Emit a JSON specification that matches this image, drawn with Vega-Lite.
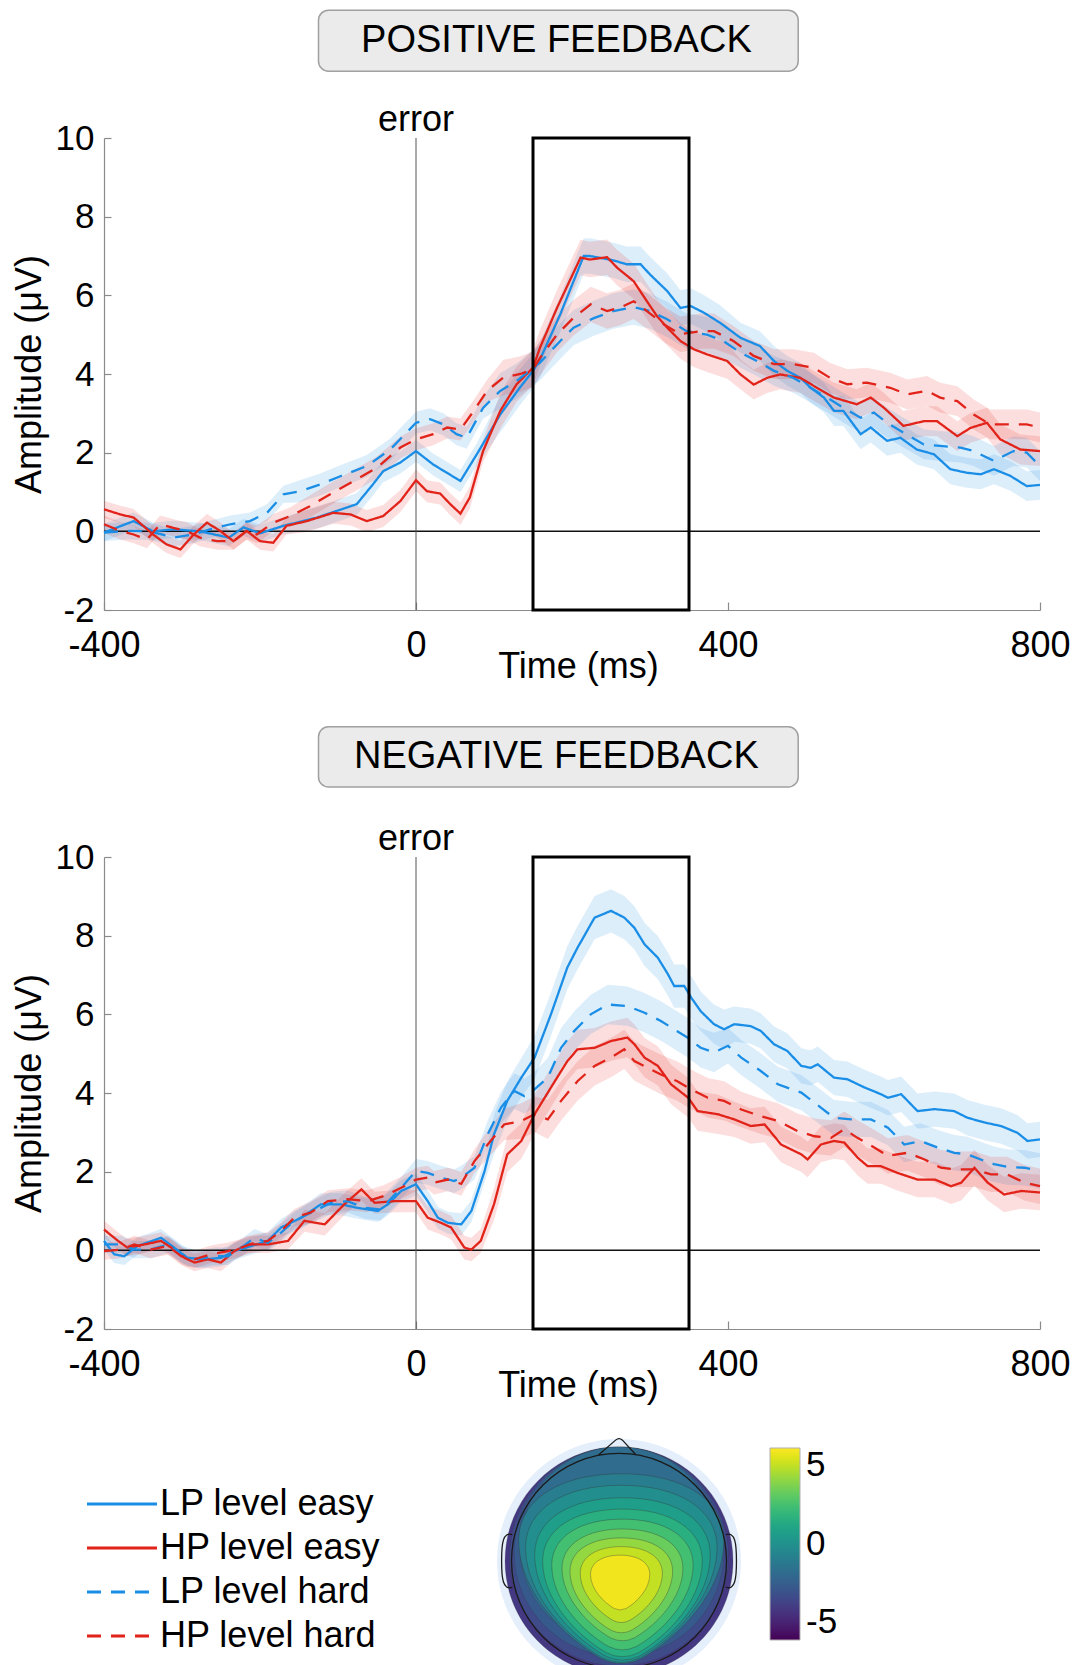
{
"$schema":"https://vega.github.io/schema/vega-lite/v6.json",
"padding":{"left":11,"top":9,"right":0,"bottom":0},
"background":"white",
"config":{
 "font":"Liberation Sans",
 "view":{"stroke":null},
 "axis":{"grid":false,"labelFontSize":35,"titleFontSize":36,"titleFontWeight":"normal","labelColor":"#000","titleColor":"#000","domainColor":"#8a8a8a","tickColor":"#8a8a8a","domainWidth":1.2,"tickWidth":1.2,"labelFlush":false,"labelOverlap":false},
 "axisX":{"tickSize":-8,"labelPadding":26,"titleX":474,"titleY":56,"titleBaseline":"middle","titleAlign":"center","labelFontSize":36},
 "axisY":{"tickSize":-7,"labelPadding":17,"titleX":-75,"titleY":236,"titleAngle":-90,"titleBaseline":"middle","titleAlign":"center"},
 "legend":{"labelColor":"#000","padding":0,"labelLimit":600}
},
"datasets":{
"pos":[
{"c":"LPe","t":-400,"v":-0.03,"e":0.22},{"c":"LPe","t":-362,"v":0.26,"e":0.22},{"c":"LPe","t":-337,"v":0.0,"e":0.22},{"c":"LPe","t":-311,"v":0.05,"e":0.22},{"c":"LPe","t":-277,"v":0.0,"e":0.22},{"c":"LPe","t":-240,"v":-0.16,"e":0.22},{"c":"LPe","t":-221,"v":0.1,"e":0.22},{"c":"LPe","t":-200,"v":-0.05,"e":0.22},{"c":"LPe","t":-170,"v":0.14,"e":0.22},{"c":"LPe","t":-127,"v":0.35,"e":0.28},{"c":"LPe","t":-76,"v":0.69,"e":0.28},{"c":"LPe","t":-55,"v":1.2,"e":0.28},{"c":"LPe","t":-42,"v":1.53,"e":0.28},{"c":"LPe","t":-20,"v":1.75,"e":0.28},{"c":"LPe","t":0,"v":2.04,"e":0.28},{"c":"LPe","t":22,"v":1.7,"e":0.28},{"c":"LPe","t":57,"v":1.28,"e":0.28},{"c":"LPe","t":78,"v":1.96,"e":0.28},{"c":"LPe","t":108,"v":2.97,"e":0.45},{"c":"LPe","t":133,"v":3.65,"e":0.45},{"c":"LPe","t":150,"v":4.08,"e":0.45},{"c":"LPe","t":159,"v":4.37,"e":0.45},{"c":"LPe","t":185,"v":5.52,"e":0.45},{"c":"LPe","t":215,"v":7.0,"e":0.45},{"c":"LPe","t":223,"v":7.0,"e":0.45},{"c":"LPe","t":253,"v":6.89,"e":0.45},{"c":"LPe","t":270,"v":6.79,"e":0.45},{"c":"LPe","t":288,"v":6.79,"e":0.45},{"c":"LPe","t":300,"v":6.53,"e":0.45},{"c":"LPe","t":322,"v":6.11,"e":0.45},{"c":"LPe","t":339,"v":5.68,"e":0.45},{"c":"LPe","t":352,"v":5.73,"e":0.45},{"c":"LPe","t":369,"v":5.56,"e":0.45},{"c":"LPe","t":390,"v":5.3,"e":0.45},{"c":"LPe","t":416,"v":4.92,"e":0.38},{"c":"LPe","t":441,"v":4.71,"e":0.38},{"c":"LPe","t":459,"v":4.33,"e":0.38},{"c":"LPe","t":476,"v":4.08,"e":0.38},{"c":"LPe","t":493,"v":3.9,"e":0.38},{"c":"LPe","t":506,"v":3.65,"e":0.38},{"c":"LPe","t":523,"v":3.4,"e":0.38},{"c":"LPe","t":536,"v":3.06,"e":0.38},{"c":"LPe","t":548,"v":3.06,"e":0.38},{"c":"LPe","t":570,"v":2.47,"e":0.38},{"c":"LPe","t":583,"v":2.64,"e":0.38},{"c":"LPe","t":604,"v":2.3,"e":0.38},{"c":"LPe","t":621,"v":2.38,"e":0.38},{"c":"LPe","t":642,"v":2.08,"e":0.38},{"c":"LPe","t":664,"v":1.96,"e":0.38},{"c":"LPe","t":685,"v":1.58,"e":0.38},{"c":"LPe","t":706,"v":1.49,"e":0.38},{"c":"LPe","t":724,"v":1.45,"e":0.38},{"c":"LPe","t":741,"v":1.58,"e":0.38},{"c":"LPe","t":762,"v":1.41,"e":0.38},{"c":"LPe","t":783,"v":1.15,"e":0.38},{"c":"LPe","t":800,"v":1.18,"e":0.38},
{"c":"HPe","t":-400,"v":0.56,"e":0.22},{"c":"HPe","t":-379,"v":0.43,"e":0.22},{"c":"HPe","t":-362,"v":0.35,"e":0.22},{"c":"HPe","t":-337,"v":-0.08,"e":0.22},{"c":"HPe","t":-320,"v":-0.33,"e":0.22},{"c":"HPe","t":-302,"v":-0.46,"e":0.22},{"c":"HPe","t":-285,"v":-0.08,"e":0.22},{"c":"HPe","t":-268,"v":0.22,"e":0.22},{"c":"HPe","t":-251,"v":0.01,"e":0.22},{"c":"HPe","t":-234,"v":-0.25,"e":0.22},{"c":"HPe","t":-217,"v":0.01,"e":0.22},{"c":"HPe","t":-200,"v":-0.25,"e":0.22},{"c":"HPe","t":-183,"v":-0.29,"e":0.22},{"c":"HPe","t":-166,"v":0.14,"e":0.22},{"c":"HPe","t":-140,"v":0.26,"e":0.28},{"c":"HPe","t":-106,"v":0.47,"e":0.28},{"c":"HPe","t":-84,"v":0.43,"e":0.28},{"c":"HPe","t":-63,"v":0.26,"e":0.28},{"c":"HPe","t":-42,"v":0.39,"e":0.28},{"c":"HPe","t":-20,"v":0.77,"e":0.28},{"c":"HPe","t":0,"v":1.3,"e":0.28},{"c":"HPe","t":14,"v":1.02,"e":0.28},{"c":"HPe","t":31,"v":0.96,"e":0.28},{"c":"HPe","t":44,"v":0.69,"e":0.28},{"c":"HPe","t":57,"v":0.45,"e":0.28},{"c":"HPe","t":69,"v":0.86,"e":0.28},{"c":"HPe","t":86,"v":2.04,"e":0.28},{"c":"HPe","t":108,"v":3.06,"e":0.45},{"c":"HPe","t":129,"v":3.74,"e":0.45},{"c":"HPe","t":150,"v":4.16,"e":0.45},{"c":"HPe","t":159,"v":4.67,"e":0.45},{"c":"HPe","t":181,"v":5.69,"e":0.45},{"c":"HPe","t":211,"v":6.96,"e":0.45},{"c":"HPe","t":223,"v":6.91,"e":0.45},{"c":"HPe","t":245,"v":6.97,"e":0.45},{"c":"HPe","t":258,"v":6.7,"e":0.45},{"c":"HPe","t":279,"v":6.36,"e":0.45},{"c":"HPe","t":296,"v":5.85,"e":0.45},{"c":"HPe","t":309,"v":5.47,"e":0.45},{"c":"HPe","t":322,"v":5.18,"e":0.45},{"c":"HPe","t":339,"v":4.84,"e":0.45},{"c":"HPe","t":356,"v":4.63,"e":0.45},{"c":"HPe","t":373,"v":4.5,"e":0.45},{"c":"HPe","t":399,"v":4.33,"e":0.45},{"c":"HPe","t":416,"v":3.99,"e":0.38},{"c":"HPe","t":433,"v":3.73,"e":0.38},{"c":"HPe","t":450,"v":3.9,"e":0.38},{"c":"HPe","t":467,"v":3.99,"e":0.38},{"c":"HPe","t":493,"v":3.9,"e":0.38},{"c":"HPe","t":514,"v":3.65,"e":0.38},{"c":"HPe","t":536,"v":3.4,"e":0.38},{"c":"HPe","t":565,"v":3.23,"e":0.38},{"c":"HPe","t":583,"v":3.4,"e":0.38},{"c":"HPe","t":600,"v":3.14,"e":0.38},{"c":"HPe","t":625,"v":2.68,"e":0.38},{"c":"HPe","t":651,"v":2.8,"e":0.38},{"c":"HPe","t":668,"v":2.8,"e":0.38},{"c":"HPe","t":694,"v":2.42,"e":0.38},{"c":"HPe","t":711,"v":2.63,"e":0.38},{"c":"HPe","t":732,"v":2.76,"e":0.38},{"c":"HPe","t":749,"v":2.34,"e":0.38},{"c":"HPe","t":775,"v":2.08,"e":0.38},{"c":"HPe","t":800,"v":2.04,"e":0.38},
{"c":"LPh","t":-400,"v":-0.03,"e":0.22},{"c":"LPh","t":-371,"v":0.01,"e":0.22},{"c":"LPh","t":-341,"v":0.0,"e":0.22},{"c":"LPh","t":-311,"v":-0.16,"e":0.22},{"c":"LPh","t":-285,"v":-0.08,"e":0.22},{"c":"LPh","t":-264,"v":0.05,"e":0.22},{"c":"LPh","t":-238,"v":0.18,"e":0.22},{"c":"LPh","t":-213,"v":0.26,"e":0.22},{"c":"LPh","t":-191,"v":0.47,"e":0.22},{"c":"LPh","t":-170,"v":0.94,"e":0.22},{"c":"LPh","t":-149,"v":1.02,"e":0.28},{"c":"LPh","t":-123,"v":1.19,"e":0.28},{"c":"LPh","t":-97,"v":1.4,"e":0.28},{"c":"LPh","t":-63,"v":1.66,"e":0.28},{"c":"LPh","t":-33,"v":2.08,"e":0.28},{"c":"LPh","t":0,"v":2.76,"e":0.28},{"c":"LPh","t":18,"v":2.85,"e":0.28},{"c":"LPh","t":35,"v":2.72,"e":0.28},{"c":"LPh","t":52,"v":2.47,"e":0.28},{"c":"LPh","t":65,"v":2.38,"e":0.28},{"c":"LPh","t":86,"v":3.14,"e":0.28},{"c":"LPh","t":108,"v":3.57,"e":0.45},{"c":"LPh","t":129,"v":3.82,"e":0.45},{"c":"LPh","t":150,"v":4.16,"e":0.45},{"c":"LPh","t":159,"v":4.29,"e":0.45},{"c":"LPh","t":185,"v":4.84,"e":0.45},{"c":"LPh","t":202,"v":5.18,"e":0.45},{"c":"LPh","t":228,"v":5.42,"e":0.45},{"c":"LPh","t":253,"v":5.6,"e":0.45},{"c":"LPh","t":279,"v":5.7,"e":0.45},{"c":"LPh","t":300,"v":5.6,"e":0.45},{"c":"LPh","t":322,"v":5.39,"e":0.45},{"c":"LPh","t":347,"v":5.09,"e":0.45},{"c":"LPh","t":373,"v":5.0,"e":0.45},{"c":"LPh","t":394,"v":4.84,"e":0.45},{"c":"LPh","t":416,"v":4.54,"e":0.38},{"c":"LPh","t":437,"v":4.33,"e":0.38},{"c":"LPh","t":459,"v":4.08,"e":0.38},{"c":"LPh","t":484,"v":3.9,"e":0.38},{"c":"LPh","t":506,"v":3.65,"e":0.38},{"c":"LPh","t":527,"v":3.4,"e":0.38},{"c":"LPh","t":548,"v":3.14,"e":0.38},{"c":"LPh","t":570,"v":2.89,"e":0.38},{"c":"LPh","t":587,"v":3.02,"e":0.38},{"c":"LPh","t":604,"v":2.76,"e":0.38},{"c":"LPh","t":625,"v":2.51,"e":0.38},{"c":"LPh","t":651,"v":2.21,"e":0.38},{"c":"LPh","t":672,"v":2.17,"e":0.38},{"c":"LPh","t":698,"v":2.13,"e":0.38},{"c":"LPh","t":715,"v":2.04,"e":0.38},{"c":"LPh","t":741,"v":1.79,"e":0.38},{"c":"LPh","t":766,"v":2.04,"e":0.38},{"c":"LPh","t":783,"v":2.0,"e":0.38},{"c":"LPh","t":800,"v":1.66,"e":0.38},
{"c":"HPh","t":-400,"v":0.18,"e":0.22},{"c":"HPh","t":-379,"v":0.01,"e":0.22},{"c":"HPh","t":-362,"v":-0.08,"e":0.22},{"c":"HPh","t":-345,"v":-0.21,"e":0.22},{"c":"HPh","t":-328,"v":0.18,"e":0.22},{"c":"HPh","t":-311,"v":0.09,"e":0.22},{"c":"HPh","t":-294,"v":0.01,"e":0.22},{"c":"HPh","t":-277,"v":-0.16,"e":0.22},{"c":"HPh","t":-255,"v":-0.25,"e":0.22},{"c":"HPh","t":-234,"v":-0.25,"e":0.22},{"c":"HPh","t":-217,"v":0.01,"e":0.22},{"c":"HPh","t":-204,"v":-0.08,"e":0.22},{"c":"HPh","t":-183,"v":0.22,"e":0.22},{"c":"HPh","t":-161,"v":0.39,"e":0.22},{"c":"HPh","t":-136,"v":0.64,"e":0.28},{"c":"HPh","t":-110,"v":0.94,"e":0.28},{"c":"HPh","t":-80,"v":1.28,"e":0.28},{"c":"HPh","t":-50,"v":1.62,"e":0.28},{"c":"HPh","t":-20,"v":2.13,"e":0.28},{"c":"HPh","t":0,"v":2.34,"e":0.28},{"c":"HPh","t":22,"v":2.47,"e":0.28},{"c":"HPh","t":40,"v":2.64,"e":0.28},{"c":"HPh","t":57,"v":2.59,"e":0.28},{"c":"HPh","t":74,"v":3.06,"e":0.28},{"c":"HPh","t":91,"v":3.57,"e":0.28},{"c":"HPh","t":112,"v":3.91,"e":0.45},{"c":"HPh","t":134,"v":4.0,"e":0.45},{"c":"HPh","t":150,"v":4.12,"e":0.45},{"c":"HPh","t":159,"v":4.41,"e":0.45},{"c":"HPh","t":181,"v":5.01,"e":0.45},{"c":"HPh","t":202,"v":5.43,"e":0.45},{"c":"HPh","t":224,"v":5.77,"e":0.45},{"c":"HPh","t":245,"v":5.6,"e":0.45},{"c":"HPh","t":262,"v":5.69,"e":0.45},{"c":"HPh","t":279,"v":5.85,"e":0.45},{"c":"HPh","t":296,"v":5.6,"e":0.45},{"c":"HPh","t":318,"v":5.26,"e":0.45},{"c":"HPh","t":339,"v":5.01,"e":0.45},{"c":"HPh","t":365,"v":5.09,"e":0.45},{"c":"HPh","t":382,"v":5.09,"e":0.45},{"c":"HPh","t":407,"v":4.84,"e":0.38},{"c":"HPh","t":433,"v":4.46,"e":0.38},{"c":"HPh","t":459,"v":4.25,"e":0.38},{"c":"HPh","t":484,"v":4.25,"e":0.38},{"c":"HPh","t":510,"v":4.16,"e":0.38},{"c":"HPh","t":531,"v":3.9,"e":0.38},{"c":"HPh","t":553,"v":3.74,"e":0.38},{"c":"HPh","t":578,"v":3.78,"e":0.38},{"c":"HPh","t":608,"v":3.65,"e":0.38},{"c":"HPh","t":630,"v":3.48,"e":0.38},{"c":"HPh","t":655,"v":3.57,"e":0.38},{"c":"HPh","t":672,"v":3.4,"e":0.38},{"c":"HPh","t":694,"v":3.31,"e":0.38},{"c":"HPh","t":715,"v":2.97,"e":0.38},{"c":"HPh","t":736,"v":2.72,"e":0.38},{"c":"HPh","t":766,"v":2.72,"e":0.38},{"c":"HPh","t":783,"v":2.72,"e":0.38},{"c":"HPh","t":800,"v":2.64,"e":0.38}
],
"neg":[
{"c":"LPe","t":-400,"v":0.24,"e":0.22},{"c":"LPe","t":-387,"v":-0.1,"e":0.22},{"c":"LPe","t":-374,"v":-0.15,"e":0.22},{"c":"LPe","t":-357,"v":0.11,"e":0.22},{"c":"LPe","t":-327,"v":0.32,"e":0.22},{"c":"LPe","t":-310,"v":0.07,"e":0.22},{"c":"LPe","t":-293,"v":-0.19,"e":0.22},{"c":"LPe","t":-271,"v":-0.23,"e":0.22},{"c":"LPe","t":-250,"v":-0.19,"e":0.22},{"c":"LPe","t":-233,"v":-0.02,"e":0.22},{"c":"LPe","t":-211,"v":0.11,"e":0.22},{"c":"LPe","t":-190,"v":0.24,"e":0.22},{"c":"LPe","t":-173,"v":0.58,"e":0.22},{"c":"LPe","t":-147,"v":0.83,"e":0.28},{"c":"LPe","t":-122,"v":1.17,"e":0.28},{"c":"LPe","t":-96,"v":1.17,"e":0.28},{"c":"LPe","t":-75,"v":1.08,"e":0.28},{"c":"LPe","t":-49,"v":1.0,"e":0.28},{"c":"LPe","t":-36,"v":1.17,"e":0.28},{"c":"LPe","t":-19,"v":1.51,"e":0.28},{"c":"LPe","t":0,"v":1.68,"e":0.28},{"c":"LPe","t":15,"v":1.25,"e":0.28},{"c":"LPe","t":28,"v":0.83,"e":0.28},{"c":"LPe","t":41,"v":0.7,"e":0.28},{"c":"LPe","t":58,"v":0.66,"e":0.28},{"c":"LPe","t":71,"v":1.0,"e":0.28},{"c":"LPe","t":88,"v":2.02,"e":0.28},{"c":"LPe","t":100,"v":2.95,"e":0.5},{"c":"LPe","t":117,"v":3.8,"e":0.5},{"c":"LPe","t":135,"v":4.39,"e":0.5},{"c":"LPe","t":152,"v":4.9,"e":0.55},{"c":"LPe","t":173,"v":6.0,"e":0.55},{"c":"LPe","t":194,"v":7.19,"e":0.55},{"c":"LPe","t":207,"v":7.69,"e":0.55},{"c":"LPe","t":229,"v":8.46,"e":0.55},{"c":"LPe","t":250,"v":8.63,"e":0.55},{"c":"LPe","t":267,"v":8.46,"e":0.55},{"c":"LPe","t":280,"v":8.2,"e":0.55},{"c":"LPe","t":293,"v":7.78,"e":0.55},{"c":"LPe","t":310,"v":7.44,"e":0.55},{"c":"LPe","t":323,"v":7.02,"e":0.55},{"c":"LPe","t":331,"v":6.72,"e":0.55},{"c":"LPe","t":344,"v":6.72,"e":0.55},{"c":"LPe","t":353,"v":6.42,"e":0.55},{"c":"LPe","t":365,"v":6.08,"e":0.5},{"c":"LPe","t":382,"v":5.75,"e":0.5},{"c":"LPe","t":395,"v":5.62,"e":0.5},{"c":"LPe","t":408,"v":5.75,"e":0.45},{"c":"LPe","t":429,"v":5.7,"e":0.45},{"c":"LPe","t":442,"v":5.58,"e":0.45},{"c":"LPe","t":459,"v":5.24,"e":0.45},{"c":"LPe","t":476,"v":5.07,"e":0.45},{"c":"LPe","t":494,"v":4.69,"e":0.45},{"c":"LPe","t":506,"v":4.64,"e":0.45},{"c":"LPe","t":515,"v":4.73,"e":0.45},{"c":"LPe","t":536,"v":4.39,"e":0.45},{"c":"LPe","t":553,"v":4.35,"e":0.45},{"c":"LPe","t":575,"v":4.14,"e":0.45},{"c":"LPe","t":596,"v":3.97,"e":0.45},{"c":"LPe","t":605,"v":3.88,"e":0.45},{"c":"LPe","t":622,"v":3.97,"e":0.45},{"c":"LPe","t":643,"v":3.54,"e":0.45},{"c":"LPe","t":665,"v":3.59,"e":0.45},{"c":"LPe","t":690,"v":3.54,"e":0.45},{"c":"LPe","t":707,"v":3.37,"e":0.45},{"c":"LPe","t":729,"v":3.25,"e":0.45},{"c":"LPe","t":750,"v":3.16,"e":0.45},{"c":"LPe","t":771,"v":2.99,"e":0.45},{"c":"LPe","t":784,"v":2.78,"e":0.45},{"c":"LPe","t":800,"v":2.82,"e":0.45},
{"c":"HPe","t":-400,"v":0.53,"e":0.22},{"c":"HPe","t":-382,"v":0.24,"e":0.22},{"c":"HPe","t":-370,"v":0.07,"e":0.22},{"c":"HPe","t":-348,"v":0.15,"e":0.22},{"c":"HPe","t":-327,"v":0.24,"e":0.22},{"c":"HPe","t":-310,"v":0.02,"e":0.22},{"c":"HPe","t":-297,"v":-0.19,"e":0.22},{"c":"HPe","t":-284,"v":-0.31,"e":0.22},{"c":"HPe","t":-267,"v":-0.23,"e":0.22},{"c":"HPe","t":-250,"v":-0.31,"e":0.22},{"c":"HPe","t":-233,"v":-0.02,"e":0.22},{"c":"HPe","t":-216,"v":0.15,"e":0.22},{"c":"HPe","t":-190,"v":0.15,"e":0.22},{"c":"HPe","t":-164,"v":0.24,"e":0.22},{"c":"HPe","t":-143,"v":0.75,"e":0.28},{"c":"HPe","t":-117,"v":0.66,"e":0.28},{"c":"HPe","t":-92,"v":1.17,"e":0.28},{"c":"HPe","t":-70,"v":1.55,"e":0.28},{"c":"HPe","t":-53,"v":1.21,"e":0.28},{"c":"HPe","t":-28,"v":1.25,"e":0.28},{"c":"HPe","t":0,"v":1.25,"e":0.28},{"c":"HPe","t":15,"v":0.83,"e":0.3},{"c":"HPe","t":32,"v":0.7,"e":0.3},{"c":"HPe","t":45,"v":0.58,"e":0.3},{"c":"HPe","t":62,"v":0.07,"e":0.3},{"c":"HPe","t":71,"v":0.02,"e":0.3},{"c":"HPe","t":83,"v":0.24,"e":0.3},{"c":"HPe","t":100,"v":1.17,"e":0.4},{"c":"HPe","t":117,"v":2.44,"e":0.45},{"c":"HPe","t":135,"v":2.78,"e":0.45},{"c":"HPe","t":152,"v":3.46,"e":0.5},{"c":"HPe","t":173,"v":4.14,"e":0.5},{"c":"HPe","t":194,"v":4.81,"e":0.5},{"c":"HPe","t":207,"v":5.11,"e":0.5},{"c":"HPe","t":229,"v":5.15,"e":0.5},{"c":"HPe","t":250,"v":5.32,"e":0.5},{"c":"HPe","t":271,"v":5.41,"e":0.5},{"c":"HPe","t":280,"v":5.24,"e":0.5},{"c":"HPe","t":293,"v":4.9,"e":0.5},{"c":"HPe","t":310,"v":4.69,"e":0.5},{"c":"HPe","t":327,"v":4.22,"e":0.5},{"c":"HPe","t":349,"v":3.88,"e":0.5},{"c":"HPe","t":361,"v":3.54,"e":0.5},{"c":"HPe","t":387,"v":3.46,"e":0.5},{"c":"HPe","t":408,"v":3.33,"e":0.45},{"c":"HPe","t":429,"v":3.16,"e":0.45},{"c":"HPe","t":447,"v":3.2,"e":0.45},{"c":"HPe","t":468,"v":2.69,"e":0.45},{"c":"HPe","t":494,"v":2.44,"e":0.45},{"c":"HPe","t":502,"v":2.31,"e":0.45},{"c":"HPe","t":519,"v":2.69,"e":0.45},{"c":"HPe","t":536,"v":2.78,"e":0.45},{"c":"HPe","t":549,"v":2.74,"e":0.45},{"c":"HPe","t":566,"v":2.36,"e":0.45},{"c":"HPe","t":579,"v":2.14,"e":0.45},{"c":"HPe","t":596,"v":2.14,"e":0.45},{"c":"HPe","t":617,"v":1.97,"e":0.45},{"c":"HPe","t":643,"v":1.8,"e":0.45},{"c":"HPe","t":665,"v":1.8,"e":0.45},{"c":"HPe","t":686,"v":1.63,"e":0.45},{"c":"HPe","t":699,"v":1.72,"e":0.45},{"c":"HPe","t":716,"v":2.1,"e":0.45},{"c":"HPe","t":733,"v":1.72,"e":0.45},{"c":"HPe","t":754,"v":1.42,"e":0.45},{"c":"HPe","t":776,"v":1.51,"e":0.45},{"c":"HPe","t":800,"v":1.47,"e":0.45},
{"c":"LPh","t":-400,"v":0.15,"e":0.22},{"c":"LPh","t":-378,"v":0.15,"e":0.22},{"c":"LPh","t":-361,"v":0.02,"e":0.22},{"c":"LPh","t":-340,"v":0.02,"e":0.22},{"c":"LPh","t":-318,"v":0.15,"e":0.22},{"c":"LPh","t":-301,"v":-0.1,"e":0.22},{"c":"LPh","t":-280,"v":-0.23,"e":0.22},{"c":"LPh","t":-259,"v":-0.15,"e":0.22},{"c":"LPh","t":-241,"v":-0.15,"e":0.22},{"c":"LPh","t":-224,"v":0.07,"e":0.22},{"c":"LPh","t":-207,"v":0.32,"e":0.22},{"c":"LPh","t":-190,"v":0.19,"e":0.22},{"c":"LPh","t":-173,"v":0.45,"e":0.22},{"c":"LPh","t":-156,"v":0.75,"e":0.22},{"c":"LPh","t":-130,"v":1.0,"e":0.28},{"c":"LPh","t":-109,"v":1.21,"e":0.28},{"c":"LPh","t":-88,"v":1.25,"e":0.28},{"c":"LPh","t":-66,"v":1.08,"e":0.28},{"c":"LPh","t":-45,"v":1.04,"e":0.28},{"c":"LPh","t":-19,"v":1.59,"e":0.28},{"c":"LPh","t":0,"v":2.02,"e":0.3},{"c":"LPh","t":15,"v":1.97,"e":0.3},{"c":"LPh","t":32,"v":1.85,"e":0.3},{"c":"LPh","t":49,"v":1.76,"e":0.3},{"c":"LPh","t":58,"v":1.85,"e":0.3},{"c":"LPh","t":75,"v":2.1,"e":0.3},{"c":"LPh","t":92,"v":2.95,"e":0.35},{"c":"LPh","t":109,"v":3.63,"e":0.4},{"c":"LPh","t":126,"v":4.05,"e":0.45},{"c":"LPh","t":139,"v":3.92,"e":0.45},{"c":"LPh","t":152,"v":4.09,"e":0.45},{"c":"LPh","t":169,"v":4.39,"e":0.5},{"c":"LPh","t":186,"v":5.15,"e":0.5},{"c":"LPh","t":203,"v":5.58,"e":0.5},{"c":"LPh","t":224,"v":6.0,"e":0.5},{"c":"LPh","t":246,"v":6.25,"e":0.5},{"c":"LPh","t":271,"v":6.21,"e":0.5},{"c":"LPh","t":293,"v":6.04,"e":0.5},{"c":"LPh","t":314,"v":5.83,"e":0.5},{"c":"LPh","t":331,"v":5.62,"e":0.5},{"c":"LPh","t":348,"v":5.41,"e":0.5},{"c":"LPh","t":365,"v":5.15,"e":0.5},{"c":"LPh","t":382,"v":5.03,"e":0.5},{"c":"LPh","t":400,"v":5.2,"e":0.45},{"c":"LPh","t":417,"v":4.9,"e":0.45},{"c":"LPh","t":442,"v":4.56,"e":0.45},{"c":"LPh","t":464,"v":4.22,"e":0.45},{"c":"LPh","t":494,"v":4.01,"e":0.45},{"c":"LPh","t":519,"v":3.63,"e":0.45},{"c":"LPh","t":536,"v":3.37,"e":0.45},{"c":"LPh","t":558,"v":3.33,"e":0.45},{"c":"LPh","t":583,"v":3.33,"e":0.45},{"c":"LPh","t":605,"v":3.12,"e":0.45},{"c":"LPh","t":626,"v":2.69,"e":0.45},{"c":"LPh","t":647,"v":2.78,"e":0.45},{"c":"LPh","t":669,"v":2.61,"e":0.45},{"c":"LPh","t":690,"v":2.48,"e":0.45},{"c":"LPh","t":707,"v":2.44,"e":0.45},{"c":"LPh","t":724,"v":2.31,"e":0.45},{"c":"LPh","t":741,"v":2.19,"e":0.45},{"c":"LPh","t":758,"v":2.12,"e":0.45},{"c":"LPh","t":780,"v":2.1,"e":0.45},{"c":"LPh","t":800,"v":2.02,"e":0.45},
{"c":"HPh","t":-400,"v":-0.02,"e":0.22},{"c":"HPh","t":-378,"v":0.02,"e":0.22},{"c":"HPh","t":-361,"v":0.15,"e":0.22},{"c":"HPh","t":-340,"v":0.02,"e":0.22},{"c":"HPh","t":-318,"v":0.11,"e":0.22},{"c":"HPh","t":-301,"v":-0.15,"e":0.22},{"c":"HPh","t":-284,"v":-0.23,"e":0.22},{"c":"HPh","t":-263,"v":-0.1,"e":0.22},{"c":"HPh","t":-241,"v":-0.02,"e":0.22},{"c":"HPh","t":-224,"v":0.07,"e":0.22},{"c":"HPh","t":-207,"v":0.19,"e":0.22},{"c":"HPh","t":-190,"v":0.24,"e":0.22},{"c":"HPh","t":-173,"v":0.49,"e":0.22},{"c":"HPh","t":-156,"v":0.83,"e":0.22},{"c":"HPh","t":-135,"v":0.96,"e":0.28},{"c":"HPh","t":-113,"v":1.25,"e":0.28},{"c":"HPh","t":-88,"v":1.3,"e":0.28},{"c":"HPh","t":-62,"v":1.25,"e":0.28},{"c":"HPh","t":-41,"v":1.38,"e":0.28},{"c":"HPh","t":-19,"v":1.59,"e":0.28},{"c":"HPh","t":0,"v":1.8,"e":0.3},{"c":"HPh","t":15,"v":1.85,"e":0.3},{"c":"HPh","t":23,"v":1.72,"e":0.3},{"c":"HPh","t":41,"v":1.8,"e":0.3},{"c":"HPh","t":58,"v":1.69,"e":0.3},{"c":"HPh","t":75,"v":2.27,"e":0.3},{"c":"HPh","t":92,"v":2.69,"e":0.35},{"c":"HPh","t":113,"v":3.2,"e":0.4},{"c":"HPh","t":135,"v":3.29,"e":0.45},{"c":"HPh","t":152,"v":3.46,"e":0.45},{"c":"HPh","t":169,"v":3.33,"e":0.5},{"c":"HPh","t":186,"v":3.8,"e":0.5},{"c":"HPh","t":207,"v":4.3,"e":0.5},{"c":"HPh","t":229,"v":4.69,"e":0.5},{"c":"HPh","t":250,"v":4.9,"e":0.5},{"c":"HPh","t":267,"v":5.11,"e":0.5},{"c":"HPh","t":280,"v":4.81,"e":0.5},{"c":"HPh","t":297,"v":4.64,"e":0.5},{"c":"HPh","t":314,"v":4.47,"e":0.5},{"c":"HPh","t":335,"v":4.3,"e":0.5},{"c":"HPh","t":353,"v":4.09,"e":0.5},{"c":"HPh","t":374,"v":3.88,"e":0.5},{"c":"HPh","t":395,"v":3.8,"e":0.5},{"c":"HPh","t":417,"v":3.58,"e":0.45},{"c":"HPh","t":442,"v":3.41,"e":0.45},{"c":"HPh","t":464,"v":3.29,"e":0.45},{"c":"HPh","t":489,"v":3.03,"e":0.45},{"c":"HPh","t":511,"v":2.9,"e":0.45},{"c":"HPh","t":532,"v":2.86,"e":0.45},{"c":"HPh","t":549,"v":3.08,"e":0.45},{"c":"HPh","t":566,"v":2.86,"e":0.45},{"c":"HPh","t":588,"v":2.61,"e":0.45},{"c":"HPh","t":605,"v":2.4,"e":0.45},{"c":"HPh","t":630,"v":2.48,"e":0.45},{"c":"HPh","t":652,"v":2.31,"e":0.45},{"c":"HPh","t":673,"v":2.1,"e":0.45},{"c":"HPh","t":690,"v":2.06,"e":0.45},{"c":"HPh","t":716,"v":2.06,"e":0.45},{"c":"HPh","t":737,"v":1.93,"e":0.45},{"c":"HPh","t":758,"v":1.93,"e":0.45},{"c":"HPh","t":780,"v":1.72,"e":0.45},{"c":"HPh","t":800,"v":1.63,"e":0.45}
],
"topoOuter":[
{"v":-3.4,"x":0,"y":0,"r":1},{"v":-2.8,"x":0,"y":0.04,"r":0.96},{"v":-2.2,"x":0,"y":0.08,"r":0.92},{"v":-1.5,"x":0,"y":0.13,"r":0.87}
],
"topoInner":[
{"v":-0.8,"x":0.02,"y":0.0,"r":0.9},{"v":-0.1,"x":0.02,"y":-0.05,"r":0.84},{"v":0.6,"x":0.03,"y":-0.1,"r":0.77},{"v":1.3,"x":0.03,"y":-0.14,"r":0.7},{"v":2.0,"x":0.03,"y":-0.16,"r":0.62},{"v":2.7,"x":0.03,"y":-0.17,"r":0.53},{"v":3.4,"x":0.02,"y":-0.18,"r":0.45},{"v":4.1,"x":0.02,"y":-0.18,"r":0.36},{"v":4.8,"x":0.01,"y":-0.17,"r":0.26}
]
},
"spacing":33,
"resolve":{"scale":{"fill":"independent"},"legend":{"fill":"independent"}},
"vconcat":[
{"bounds":"flush","spacing":247,"vconcat":[
{"width":936,"height":472,"layer":[
 {"data":{"values":[{}]},"mark":{"type":"rect","cornerRadius":10,"fill":"#ebebeb","stroke":"#a0a0a0","strokeWidth":1.5},"encoding":{"x":{"datum":-125,"type":"quantitative"},"x2":{"datum":490},"y":{"datum":11.7,"type":"quantitative"},"y2":{"datum":13.25}}},
 {"data":{"values":[{}]},"mark":{"type":"text","text":"POSITIVE FEEDBACK","fontSize":38,"align":"center","baseline":"middle","color":"#000"},"encoding":{"x":{"datum":180,"type":"quantitative"},"y":{"datum":12.47,"type":"quantitative"}}},
 {"data":{"name":"pos"},"mark":{"type":"errorband","band":{"opacity":0.15}},"encoding":{"x":{"field":"t","type":"quantitative","title":"Time (ms)","scale":{"domain":[-400,800],"nice":false,"zero":false}},"y":{"field":"v","type":"quantitative","title":"Amplitude (μV)","scale":{"domain":[-2,10],"nice":false,"zero":false}},"yError":{"field":"e"},"fill":{"field":"c","type":"nominal","scale":{"domain":["LPe","HPe","LPh","HPh"],"range":["#1a8ee6","#e2231a","#1a8ee6","#e2231a"]},"legend":null}}},
 {"data":{"values":[{}]},"mark":{"type":"rule","color":"#111","strokeWidth":1.5},"encoding":{"x":{"datum":-400,"type":"quantitative"},"x2":{"datum":800},"y":{"datum":0,"type":"quantitative"}}},
 {"data":{"values":[{}]},"mark":{"type":"rule","color":"#555","strokeWidth":1},"encoding":{"x":{"datum":0,"type":"quantitative"},"y":{"datum":-2,"type":"quantitative"},"y2":{"datum":10}}},
 {"data":{"name":"pos"},"mark":{"type":"line","strokeWidth":2.3},"encoding":{"x":{"field":"t","type":"quantitative","title":"Time (ms)","scale":{"domain":[-400,800],"nice":false,"zero":false},"axis":{"title":"Time (ms)","values":[-400,0,400,800],"labelExpr":"toString(datum.value)"}},"y":{"field":"v","type":"quantitative","title":"Amplitude (μV)","scale":{"domain":[-2,10],"nice":false,"zero":false},"axis":{"title":"Amplitude (μV)","values":[-2,0,2,4,6,8,10],"labelExpr":"toString(datum.value)"}},"color":{"field":"c","type":"nominal","scale":{"domain":["LPe","HPe","LPh","HPh"],"range":["#1a8ee6","#e2231a","#1a8ee6","#e2231a"]},"legend":{"orient":"none","legendX":0,"legendY":1348,"title":null,"symbolType":"M-3.5,0H3.5","symbolSize":400,"symbolStrokeWidth":3,"labelFontSize":36,"labelOffset":20,"labelLimit":600,"rowPadding":8,"padding":0,"labelExpr":"datum.label == 'LPe' ? 'LP level easy' : datum.label == 'HPe' ? 'HP level easy' : datum.label == 'LPh' ? 'LP level hard' : 'HP level hard'"}},"strokeDash":{"field":"c","type":"nominal","scale":{"domain":["LPe","HPe","LPh","HPh"],"range":[[1,0],[1,0],[14,10],[14,10]]},"legend":{"orient":"none","legendX":0,"legendY":1348,"title":null,"symbolType":"M-3.5,0H3.5","symbolSize":400,"symbolStrokeWidth":3,"labelFontSize":36,"labelOffset":20,"labelLimit":600,"rowPadding":8,"padding":0,"labelExpr":"datum.label == 'LPe' ? 'LP level easy' : datum.label == 'HPe' ? 'HP level easy' : datum.label == 'LPh' ? 'LP level hard' : 'HP level hard'"}}}},
 {"data":{"values":[{}]},"mark":{"type":"rect","fillOpacity":0,"stroke":"#000","strokeWidth":3},"encoding":{"x":{"datum":150,"type":"quantitative"},"x2":{"datum":350},"y":{"datum":-2,"type":"quantitative"},"y2":{"datum":10}}},
 {"data":{"values":[{}]},"mark":{"type":"text","text":"error","fontSize":36,"align":"center","baseline":"alphabetic","dy":-7,"color":"#000"},"encoding":{"x":{"datum":0,"type":"quantitative"},"y":{"datum":10,"type":"quantitative"}}}
]},
{"width":936,"height":472,"layer":[
 {"data":{"values":[{}]},"mark":{"type":"rect","cornerRadius":10,"fill":"#ebebeb","stroke":"#a0a0a0","strokeWidth":1.5},"encoding":{"x":{"datum":-125,"type":"quantitative"},"x2":{"datum":490},"y":{"datum":11.78,"type":"quantitative"},"y2":{"datum":13.31}}},
 {"data":{"values":[{}]},"mark":{"type":"text","text":"NEGATIVE FEEDBACK","fontSize":38,"align":"center","baseline":"middle","color":"#000"},"encoding":{"x":{"datum":180,"type":"quantitative"},"y":{"datum":12.54,"type":"quantitative"}}},
 {"data":{"name":"neg"},"mark":{"type":"errorband","band":{"opacity":0.15}},"encoding":{"x":{"field":"t","type":"quantitative","title":"Time (ms)","scale":{"domain":[-400,800],"nice":false,"zero":false}},"y":{"field":"v","type":"quantitative","title":"Amplitude (μV)","scale":{"domain":[-2,10],"nice":false,"zero":false}},"yError":{"field":"e"},"fill":{"field":"c","type":"nominal","scale":{"domain":["LPe","HPe","LPh","HPh"],"range":["#1a8ee6","#e2231a","#1a8ee6","#e2231a"]},"legend":null}}},
 {"data":{"values":[{}]},"mark":{"type":"rule","color":"#111","strokeWidth":1.5},"encoding":{"x":{"datum":-400,"type":"quantitative"},"x2":{"datum":800},"y":{"datum":0,"type":"quantitative"}}},
 {"data":{"values":[{}]},"mark":{"type":"rule","color":"#555","strokeWidth":1},"encoding":{"x":{"datum":0,"type":"quantitative"},"y":{"datum":-2,"type":"quantitative"},"y2":{"datum":10}}},
 {"data":{"name":"neg"},"mark":{"type":"line","strokeWidth":2.3},"encoding":{"x":{"field":"t","type":"quantitative","title":"Time (ms)","scale":{"domain":[-400,800],"nice":false,"zero":false},"axis":{"title":"Time (ms)","values":[-400,0,400,800],"labelExpr":"toString(datum.value)"}},"y":{"field":"v","type":"quantitative","title":"Amplitude (μV)","scale":{"domain":[-2,10],"nice":false,"zero":false},"axis":{"title":"Amplitude (μV)","values":[-2,0,2,4,6,8,10],"labelExpr":"toString(datum.value)"}},"color":{"field":"c","type":"nominal","scale":{"domain":["LPe","HPe","LPh","HPh"],"range":["#1a8ee6","#e2231a","#1a8ee6","#e2231a"]},"legend":{"orient":"none","legendX":0,"legendY":1348,"title":null,"symbolType":"M-3.5,0H3.5","symbolSize":400,"symbolStrokeWidth":3,"labelFontSize":36,"labelOffset":20,"labelLimit":600,"rowPadding":8,"padding":0,"labelExpr":"datum.label == 'LPe' ? 'LP level easy' : datum.label == 'HPe' ? 'HP level easy' : datum.label == 'LPh' ? 'LP level hard' : 'HP level hard'"}},"strokeDash":{"field":"c","type":"nominal","scale":{"domain":["LPe","HPe","LPh","HPh"],"range":[[1,0],[1,0],[14,10],[14,10]]},"legend":{"orient":"none","legendX":0,"legendY":1348,"title":null,"symbolType":"M-3.5,0H3.5","symbolSize":400,"symbolStrokeWidth":3,"labelFontSize":36,"labelOffset":20,"labelLimit":600,"rowPadding":8,"padding":0,"labelExpr":"datum.label == 'LPe' ? 'LP level easy' : datum.label == 'HPe' ? 'HP level easy' : datum.label == 'LPh' ? 'LP level hard' : 'HP level hard'"}}}},
 {"data":{"values":[{}]},"mark":{"type":"rect","fillOpacity":0,"stroke":"#000","strokeWidth":3},"encoding":{"x":{"datum":150,"type":"quantitative"},"x2":{"datum":350},"y":{"datum":-2,"type":"quantitative"},"y2":{"datum":10}}},
 {"data":{"values":[{}]},"mark":{"type":"text","text":"error","fontSize":36,"align":"center","baseline":"alphabetic","dy":-7,"color":"#000"},"encoding":{"x":{"datum":0,"type":"quantitative"},"y":{"datum":10,"type":"quantitative"}}}
]}
]},
{"width":940,"height":235,"layer":[
 {"data":{"values":[{}]},"mark":{"type":"point","shape":"M-1,0A1,1,0,1,1,1,0A1,1,0,1,1,-1,0Z","filled":true,"fill":"#e4effb","opacity":1,"strokeWidth":0},"encoding":{"x":{"datum":0,"type":"quantitative","scale":{"domain":[-4.518,3.728],"nice":false,"zero":false},"axis":null},"y":{"datum":0,"type":"quantitative","scale":{"domain":[-0.965,1.096],"nice":false,"zero":false},"axis":null},"size":{"datum":1.07,"type":"quantitative","scale":{"type":"pow","exponent":2,"domain":[0,1],"range":[0,51984]},"legend":null}}},
 {"data":{"name":"topoOuter"},"mark":{"type":"point","shape":"M-1,0A1,1,0,1,1,1,0A1,1,0,1,1,-1,0Z","filled":true,"opacity":1,"stroke":"#333","strokeOpacity":0.25,"strokeWidth":0.8},"encoding":{"x":{"field":"x","type":"quantitative","scale":{"domain":[-4.518,3.728],"nice":false,"zero":false},"axis":null},"y":{"field":"y","type":"quantitative","scale":{"domain":[-0.965,1.096],"nice":false,"zero":false},"axis":null},"size":{"field":"r","type":"quantitative","scale":{"type":"pow","exponent":2,"domain":[0,1],"range":[0,51984]},"legend":null},"fill":{"field":"v","type":"quantitative","scale":{"scheme":"viridis","domain":[-5,5]},"legend":{"orient":"none","legendX":666,"legendY":12,"title":null,"direction":"vertical","gradientLength":192,"gradientThickness":30,"values":[-5,0,5],"labelFontSize":35,"labelOffset":6,"gradientStrokeColor":"#b0b0b0","gradientStrokeWidth":1,"labelOverlap":false,"labelExpr":"toString(datum.value)","encode":{"labels":{"update":{"baseline":{"value":"middle"}}}}}}}},
 {"data":{"name":"topoInner"},"mark":{"type":"point","shape":"M0,-0.85C0.6,-0.85,1,-0.6,1,-0.2C1,0.3,0.55,0.75,0.2,0.95Q0,1.05,-0.2,0.95C-0.55,0.75,-1,0.3,-1,-0.2C-1,-0.6,-0.6,-0.85,0,-0.85Z","filled":true,"opacity":1,"stroke":"#333","strokeOpacity":0.35,"strokeWidth":1},"encoding":{"x":{"field":"x","type":"quantitative","scale":{"domain":[-4.518,3.728],"nice":false,"zero":false},"axis":null},"y":{"field":"y","type":"quantitative","scale":{"domain":[-0.965,1.096],"nice":false,"zero":false},"axis":null},"size":{"field":"r","type":"quantitative","scale":{"type":"pow","exponent":2,"domain":[0,1],"range":[0,51984]},"legend":null},"fill":{"field":"v","type":"quantitative","scale":{"scheme":"viridis","domain":[-5,5]},"legend":{"orient":"none","legendX":666,"legendY":12,"title":null,"direction":"vertical","gradientLength":192,"gradientThickness":30,"values":[-5,0,5],"labelFontSize":35,"labelOffset":6,"gradientStrokeColor":"#b0b0b0","gradientStrokeWidth":1,"labelOverlap":false,"labelExpr":"toString(datum.value)","encode":{"labels":{"update":{"baseline":{"value":"middle"}}}}}}}},
 {"data":{"values":[{}]},"mark":{"type":"point","shape":"M-0.943,0A0.943,0.943,0,1,1,0.943,0A0.943,0.943,0,1,1,-0.943,0ZM-0.18,-0.93L-0.03,-1.06Q0,-1.085,0.03,-1.06L0.15,-0.93M-0.935,-0.23C-1.02,-0.26,-1.03,-0.15,-1.03,0C-1.03,0.15,-1.02,0.26,-0.935,0.23M0.935,-0.23C1.02,-0.26,1.03,-0.15,1.03,0C1.03,0.15,1.02,0.26,0.935,0.23","filled":false,"stroke":"#1a1a1a","strokeWidth":1.3,"opacity":1},"encoding":{"x":{"datum":0,"type":"quantitative"},"y":{"datum":0,"type":"quantitative"},"size":{"datum":1,"type":"quantitative"}}}
]}
]
}
